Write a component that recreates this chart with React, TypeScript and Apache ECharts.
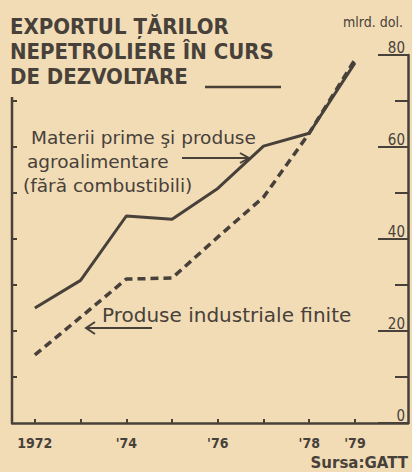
import React, { useEffect, useRef } from "react";
import * as echarts from "echarts";

const years = [1972, 1973, 1974, 1975, 1976, 1977, 1978, 1979];
const rawMaterials = [25, 31, 45, 44.3, 51, 60.2, 63, 78.3];
const manufactures = [14.8, 23, 31.3, 31.5, 40.4, 49.1, 63, 79];
const xLabelYears = [1972, 1974, 1976, 1978, 1979];
const yLabelValues = [0, 20, 40, 60, 80];
const leftTickValues = [10, 20, 30, 40, 50, 60, 70];

const titleLines = ["EXPORTUL ȚĂRILOR", "NEPETROLIERE ÎN CURS", "DE DEZVOLTARE"];
const unitLabel = "mlrd. dol.";
const rawLabelLines = ["Materii prime şi produse", "agroalimentare", "(fără combustibili)"];
const manufLabel = "Produse industriale finite";
const sourceLabel = "Sursa:GATT";

const INK = "#47413a";
const BG = "#f2dcb6";

function txt(text: string, x: number, y: number, font: string, align = "left") {
  return {
    type: "text",
    style: {
      text,
      x,
      y,
      font,
      fill: INK,
      align,
      textAlign: align,
      verticalAlign: "middle",
      textVerticalAlign: "middle",
    },
    silent: true,
  };
}

function ln(x1: number, y1: number, x2: number, y2: number, w = 2.5) {
  return {
    type: "line",
    shape: { x1, y1, x2, y2 },
    style: { stroke: INK, lineWidth: w },
    silent: true,
  };
}

export default function App() {
  const ref = useRef<HTMLDivElement>(null);
  useEffect(() => {
    document.body.style.margin = "0";
    document.body.style.background = BG;
    const chart = echarts.init(ref.current!, null, { renderer: "svg" });
    const titleFont = 'bold 22px "DejaVu Sans Condensed"';
    const noteFont = '18.5px "DejaVu Sans"';
    const noteFont2 = '20px "DejaVu Sans"';
    chart.setOption({
      animation: false,
      backgroundColor: BG,
      grid: { left: 12, right: 4, top: 55, bottom: 49 },
      xAxis: {
        type: "value",
        min: 1971.5,
        max: 1980.16,
        axisLine: { show: true, lineStyle: { color: INK, width: 2.5 } },
        axisTick: {
          show: true,
          inside: true,
          length: 4,
          customValues: years,
          lineStyle: { color: INK, width: 2 },
        },
        axisLabel: {
          customValues: xLabelYears,
          margin: 13,
          color: INK,
          fontFamily: "DejaVu Sans Condensed",
          fontWeight: "bold",
          fontSize: 14,
          formatter: (v: number) => (v === 1972 ? "1972" : "'" + String(v).slice(2)),
        },
        splitLine: { show: false },
      },
      yAxis: [
        {
          type: "value",
          position: "right",
          min: 0,
          max: 80,
          interval: 20,
          axisLine: { show: true, lineStyle: { color: INK, width: 2.5 } },
          axisTick: {
            show: true,
            inside: true,
            length: 30,
            lineStyle: { color: INK, width: 2 },
          },
          minorTick: {
            show: true,
            splitNumber: 2,
            length: 13,
            lineStyle: { color: INK, width: 2 },
          },
          axisLabel: {
            inside: true,
            margin: 3,
            verticalAlign: "bottom",
            customValues: yLabelValues,
            color: INK,
            fontFamily: "DejaVu Sans Condensed",
            fontSize: 15,
          },
          splitLine: { show: false },
        },
        {
          type: "value",
          position: "left",
          min: 0,
          max: 80,
          interval: 10,
          axisLine: { show: false },
          axisTick: {
            show: true,
            inside: true,
            length: 5,
            customValues: leftTickValues,
            lineStyle: { color: INK, width: 2 },
          },
          axisLabel: { show: false },
          splitLine: { show: false },
        },
      ],
      series: [
        {
          type: "line",
          name: "Materii prime",
          data: years.map((y, i) => [y, rawMaterials[i]]),
          symbol: "none",
          lineStyle: { color: INK, width: 3 },
          z: 3,
        },
        {
          type: "line",
          name: "Produse industriale",
          data: years.map((y, i) => [y, manufactures[i]]),
          symbol: "none",
          lineStyle: { color: INK, width: 3.5, type: [8, 5] },
          z: 2,
        },
      ],
      graphic: [
        ln(12, 97, 12, 423),
        txt(titleLines[0], 10, 26, titleFont),
        txt(titleLines[1], 10, 51, titleFont),
        txt(titleLines[2], 10, 76, titleFont),
        ln(205, 87, 281, 87),
        txt(unitLabel, 403, 22, '14px "DejaVu Sans Condensed"', "right"),
        txt(rawLabelLines[0], 31, 137, noteFont),
        txt(rawLabelLines[1], 27, 161, noteFont),
        txt(rawLabelLines[2], 23, 185, noteFont),
        ln(182, 158, 248, 158, 2),
        {
          type: "polyline",
          shape: { points: [[240, 153], [249, 158], [240, 163]] },
          style: { stroke: INK, lineWidth: 2, fill: "none" },
          silent: true,
        },
        txt(manufLabel, 102, 315, noteFont2),
        ln(86, 328, 152, 328, 2),
        {
          type: "polyline",
          shape: { points: [[95, 322], [86, 328], [95, 334]] },
          style: { stroke: INK, lineWidth: 2, fill: "none" },
          silent: true,
        },
        txt(sourceLabel, 408, 463, 'bold 15px "DejaVu Sans"', "right"),
      ],
    });
    return () => chart.dispose();
  }, []);
  return <div ref={ref} style={{ width: 412, height: 472 }} />;
}
